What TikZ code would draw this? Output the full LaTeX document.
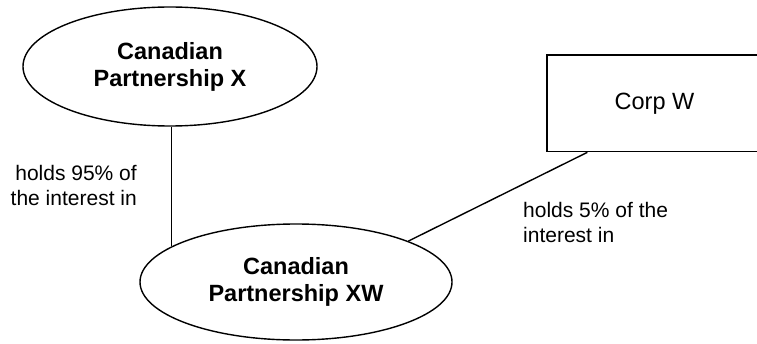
\documentclass[tikz,border=0pt]{standalone}
\usepackage{fontspec}
\setmainfont{Liberation Sans}
\usetikzlibrary{shapes.geometric}
\tikzset{
  ent/.style={draw, ellipse, line width=1.4pt, inner sep=0pt, align=center,
    font=\fontsize{23.5}{27}\selectfont\bfseries},
  corp/.style={draw, rectangle, line width=1.4pt, inner sep=0pt,
    font=\fontsize{23.5}{27}\selectfont},
  lbl/.style={inner sep=0pt, font=\fontsize{21}{24.3}\selectfont},
  conn/.style={line width=1.4pt}
}
\begin{document}
\begin{tikzpicture}[x=1pt,y=1pt]
\useasboundingbox (0,0) rectangle (757,343);
\clip (0,0) rectangle (757,343);
\node[ent, minimum width=294pt, minimum height=119pt] (x) at (170,276.5) {Canadian\\Partnership X};
\node[ent, minimum width=312pt, minimum height=116pt] (xw) at (296,61) {Canadian\\Partnership XW};
\node[corp, minimum width=215pt, minimum height=96.7pt] (w) at (654.5,239.7) {Corp W};
\coordinate (wb) at ([xshift=41pt]w.south west);
\draw[conn] (xw.164) -- (xw.164 |- x.south);
\draw[conn] (xw.20) -- (wb);
\node[lbl, align=right, anchor=base east] (l1) at (137,138) {holds 95\% of\\the interest in};
\node[lbl, align=left, anchor=base west] (l2) at (523,101) {holds 5\% of the\\interest in};
\end{tikzpicture}
\end{document}
